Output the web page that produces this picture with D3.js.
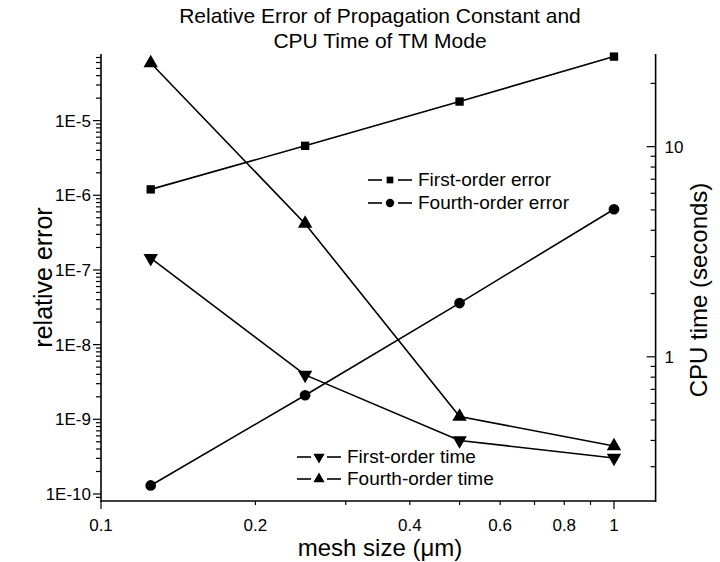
<!DOCTYPE html>
<html><head><meta charset="utf-8">
<script src="https://cdn.jsdelivr.net/npm/d3@7"></script>
<style>body{margin:0;background:#fff}svg{display:block}text{font-family:"Liberation Sans",Arial,sans-serif;fill:#000}</style>
</head><body><svg id="c" width="720" height="562"></svg>
<script>
const meshSize = [0.125, 0.25, 0.5, 1];
const firstOrderError = [1.2e-6, 4.6e-6, 1.8e-5, 7.2e-5];
const fourthOrderError = [1.3e-10, 2.1e-9, 3.6e-8, 6.5e-7];
const firstOrderTime = [2.95, 0.82, 0.40, 0.33];
const fourthOrderTime = [25, 4.3, 0.52, 0.376];
const xTickLabels = [0.1, 0.2, 0.4, 0.6, 0.8, 1];
const leftTickLabels = ["1E-10","1E-9","1E-8","1E-7","1E-6","1E-5"];
const rightTickLabels = ["1","10"];

const svg = d3.select("#c");
const L=101, R=654.6, T=54, B=501;
const x = d3.scaleLog().domain([0.1,1.2]).range([L,R]);
const yL = d3.scaleLog().domain([8.05e-11,7.8e-5]).range([B,T]);
const yR = d3.scaleLog().domain([0.206,27.6]).range([B,T]);

// title
svg.append("text").attr("x",380).attr("y",23).attr("text-anchor","middle").attr("font-size",21).text("Relative Error of Propagation Constant and");
svg.append("text").attr("x",380).attr("y",48).attr("text-anchor","middle").attr("font-size",21).text("CPU Time of TM Mode");

const g = svg.append("g").attr("stroke","#000").attr("fill","none");
// axis lines
g.append("line").attr("x1",L).attr("x2",L).attr("y1",T).attr("y2",B+1).attr("stroke-width",1.6);
g.append("line").attr("x1",R+1).attr("x2",R+1).attr("y1",T).attr("y2",B+1).attr("stroke-width",1.6);
g.append("line").attr("x1",L).attr("x2",R+1).attr("y1",B).attr("y2",B).attr("stroke-width",1.6);

// left ticks
const lmin = Math.floor(Math.log10(yL.domain()[0])), lmax = Math.ceil(Math.log10(yL.domain()[1]));
for(let e=lmin;e<=lmax;e++){for(let m=1;m<10;m++){const v=m*Math.pow(10,e);if(v<yL.domain()[0]||v>yL.domain()[1])continue;
 const yy=yL(v); g.append("line").attr("x1",L).attr("x2",L-(m===1?8:5)).attr("y1",yy).attr("y2",yy).attr("stroke-width",1.2);}}
leftTickLabels.forEach(s=>{const v=+s.replace("E","e");svg.append("text").attr("x",L-10).attr("y",yL(v)+6).attr("text-anchor","end").attr("font-size",17).text(s);});

// right ticks (inward)
for(let e=-1;e<=1;e++){for(let m=1;m<10;m++){const v=m*Math.pow(10,e);if(v<yR.domain()[0]||v>yR.domain()[1])continue;
 const yy=yR(v); g.append("line").attr("x1",R+1).attr("x2",R+1-(m===1?9:5)).attr("y1",yy).attr("y2",yy).attr("stroke-width",1.2);}}
rightTickLabels.forEach(s=>{svg.append("text").attr("x",R+10).attr("y",yR(+s)+6).attr("font-size",17).text(s);});

// bottom ticks
[0.1,0.2,0.3,0.4,0.5,0.6,0.7,0.8,0.9,1].forEach(v=>{const major=(v===0.1||v===1);
 g.append("line").attr("x1",x(v)).attr("x2",x(v)).attr("y1",B).attr("y2",B+(major?8:4)).attr("stroke-width",1.2);});
xTickLabels.forEach(v=>svg.append("text").attr("x",x(v)).attr("y",B+30).attr("text-anchor","middle").attr("font-size",17).text(String(v)));

// axis titles
svg.append("text").attr("transform",`translate(52,${(T+B)/2}) rotate(-90)`).attr("text-anchor","middle").attr("font-size",25).text("relative error");
svg.append("text").attr("transform",`translate(707,290) rotate(-90)`).attr("text-anchor","middle").attr("font-size",24).text("CPU time (seconds)");
const xt = svg.append("text").attr("x",380).attr("y",556).attr("text-anchor","middle").attr("font-size",24);
xt.append("tspan").text("mesh size (");xt.append("tspan").text("μ");xt.append("tspan").text("m)");

// series
const series = [
 {vals:firstOrderError, y:yL, sym:d3.symbolSquare, size:70},
 {vals:fourthOrderError, y:yL, sym:d3.symbolCircle, size:90},
 {vals:firstOrderTime, y:yR, sym:"down", size:90},
 {vals:fourthOrderTime, y:yR, sym:d3.symbolTriangle, size:90}
];
function sympath(sym,size){ if(sym==="down") return d3.symbol().type(d3.symbolTriangle).size(size)(); return d3.symbol().type(sym).size(size)(); }
series.forEach(s=>{
 const line=d3.line().x((d,i)=>x(meshSize[i])).y(d=>s.y(d));
 g.append("path").attr("d",line(s.vals)).attr("stroke-width",1.6);
 s.vals.forEach((d,i)=>{svg.append("path").attr("d",sympath(s.sym,s.size)).attr("fill","#000")
  .attr("transform",`translate(${x(meshSize[i])},${s.y(d)})${s.sym==="down"?" rotate(180)":""}`);});
});

// legends
function legend(lx,ly,sym,label){
 g.append("line").attr("x1",lx).attr("x2",lx+14).attr("y1",ly).attr("y2",ly).attr("stroke-width",1.6);
 g.append("line").attr("x1",lx+30).attr("x2",lx+44).attr("y1",ly).attr("y2",ly).attr("stroke-width",1.6);
 svg.append("path").attr("d",sympath(sym,sym===d3.symbolSquare?45:55)).attr("fill","#000").attr("transform",`translate(${lx+22},${ly})${sym==="down"?" rotate(180)":""}`);
 svg.append("text").attr("x",lx+50).attr("y",ly+6).attr("font-size",19).text(label);
}
legend(368,180,d3.symbolSquare,"First-order error");
legend(368,203,d3.symbolCircle,"Fourth-order error");
legend(297,457,"down","First-order time");
legend(297,479,d3.symbolTriangle,"Fourth-order time");
</script></body></html>
